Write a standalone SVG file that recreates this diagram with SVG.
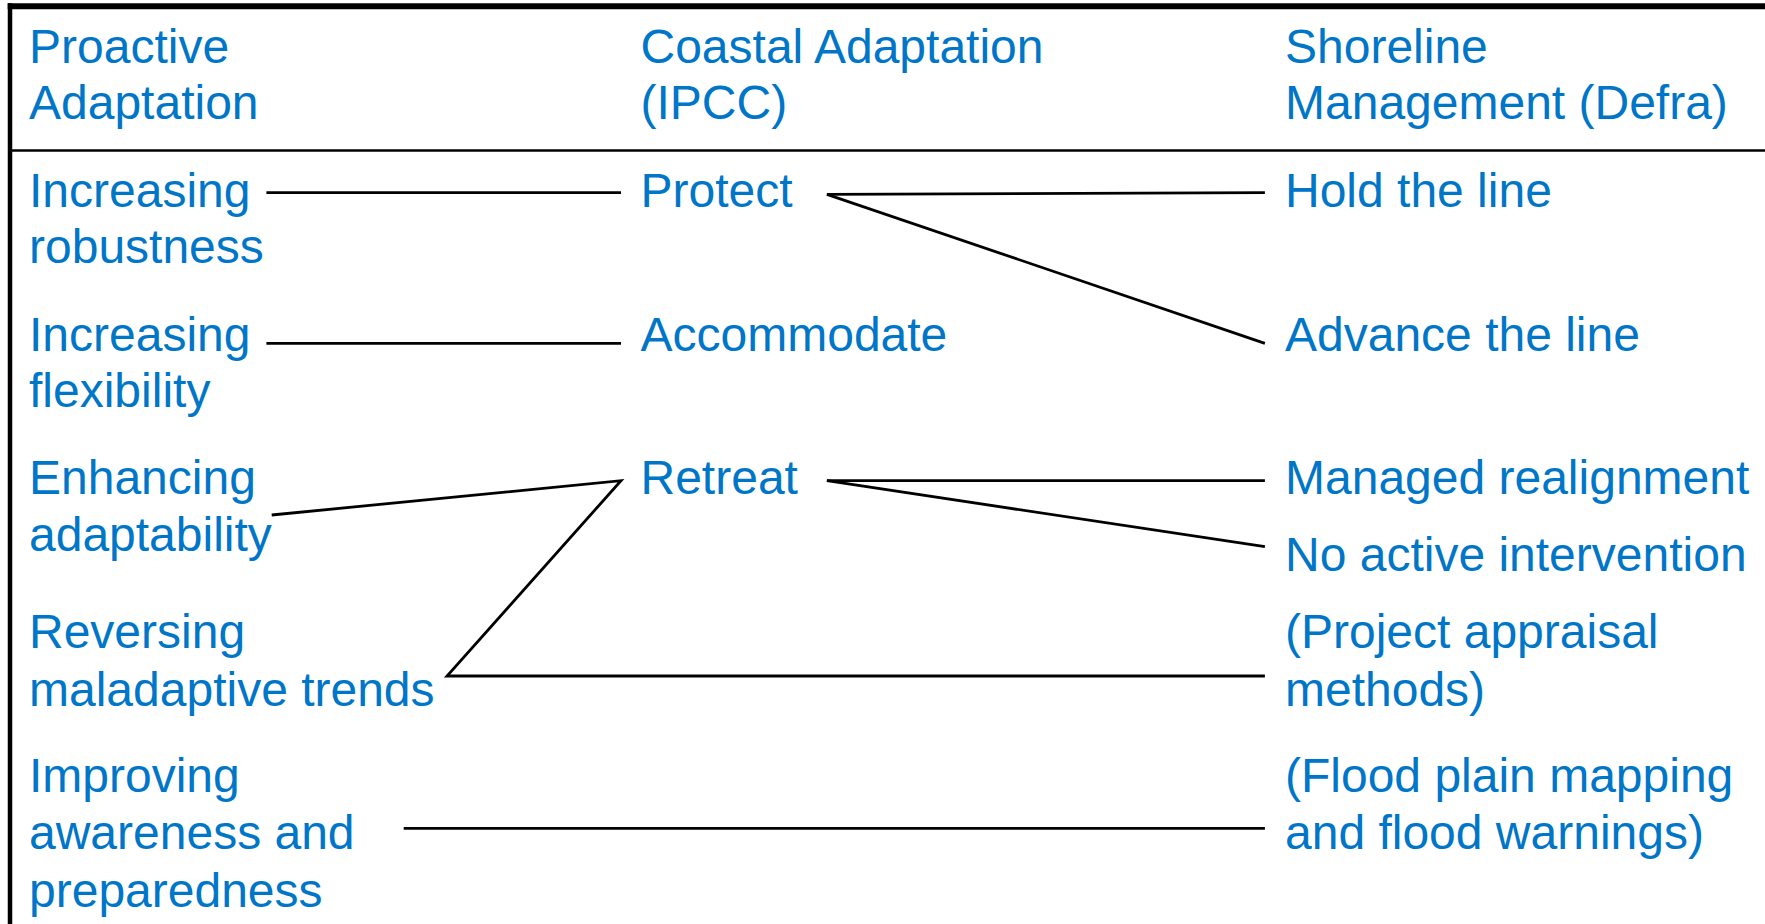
<svg xmlns="http://www.w3.org/2000/svg" width="1765" height="924" viewBox="0 0 1765 924">
  <style>
    text { font-family: "Liberation Sans", Arial, sans-serif; font-size: 48px; fill: #0076C9; }
    .frame { stroke: #000; fill: none; }
    .link { stroke: #000; stroke-width: 2.8; fill: none; stroke-linejoin: miter; }
  </style>
  <rect width="1765" height="924" fill="#fff"/>

  <!-- table frame and header rule -->
  <g id="frame">
    <line class="frame" x1="7.7" y1="6.3" x2="1765" y2="6.3" stroke-width="6"/>
    <line class="frame" x1="10" y1="3.3" x2="10" y2="924" stroke-width="4.5"/>
    <line class="frame" x1="11" y1="150.5" x2="1765" y2="150.5" stroke-width="2.6"/>
  </g>

  <!-- column headings -->
  <g id="head-proactive">
    <text x="29" y="62.7">Proactive</text>
    <text x="29" y="119.3">Adaptation</text>
  </g>
  <g id="head-ipcc">
    <text x="640.5" y="62.7">Coastal Adaptation</text>
    <text x="640.5" y="119.3">(IPCC)</text>
  </g>
  <g id="head-defra">
    <text x="1285" y="62.7">Shoreline</text>
    <text x="1285" y="119.3">Management (Defra)</text>
  </g>

  <!-- proactive adaptation column -->
  <g id="robustness">
    <text x="29" y="206.7">Increasing</text>
    <text x="29" y="263.3">robustness</text>
  </g>
  <g id="flexibility">
    <text x="29" y="350.7">Increasing</text>
    <text x="29" y="407.3">flexibility</text>
  </g>
  <g id="adaptability">
    <text x="29" y="494">Enhancing</text>
    <text x="29" y="550.7">adaptability</text>
  </g>
  <g id="maladaptive">
    <text x="29" y="648.3">Reversing</text>
    <text x="29" y="706">maladaptive trends</text>
  </g>
  <g id="awareness">
    <text x="29" y="791.7">Improving</text>
    <text x="29" y="849">awareness and</text>
    <text x="29" y="906.7">preparedness</text>
  </g>

  <!-- IPCC column -->
  <g id="protect">
    <text x="640.5" y="206.7">Protect</text>
  </g>
  <g id="accommodate">
    <text x="640.5" y="350.7">Accommodate</text>
  </g>
  <g id="retreat">
    <text x="640.5" y="494">Retreat</text>
  </g>

  <!-- Defra column -->
  <g id="hold">
    <text x="1285" y="206.7">Hold the line</text>
  </g>
  <g id="advance">
    <text x="1285" y="350.7">Advance the line</text>
  </g>
  <g id="managed">
    <text x="1285" y="494">Managed realignment</text>
  </g>
  <g id="no-intervention">
    <text x="1285" y="570.7">No active intervention</text>
  </g>
  <g id="appraisal">
    <text x="1285" y="648.3">(Project appraisal</text>
    <text x="1285" y="706">methods)</text>
  </g>
  <g id="flood">
    <text x="1285" y="791.7">(Flood plain mapping</text>
    <text x="1285" y="849">and flood warnings)</text>
  </g>

  <!-- connectors -->
  <g id="connectors">
    <line class="link" x1="266.4" y1="192.7" x2="621" y2="192.7"/>
    <line class="link" x1="826.9" y1="194.3" x2="1264.9" y2="192.7"/>
    <line class="link" x1="826.9" y1="194.3" x2="1264.9" y2="343.3"/>
    <line class="link" x1="266.4" y1="343.3" x2="621" y2="343.3"/>
    <polyline class="link" points="271.7,515 621,480.7 447,676 1264.9,676"/>
    <line class="link" x1="826.9" y1="480.7" x2="1264.9" y2="480.7"/>
    <line class="link" x1="826.9" y1="480.7" x2="1264.9" y2="546.7"/>
    <line class="link" x1="403.7" y1="828.3" x2="1264.9" y2="828.3"/>
  </g>
</svg>
